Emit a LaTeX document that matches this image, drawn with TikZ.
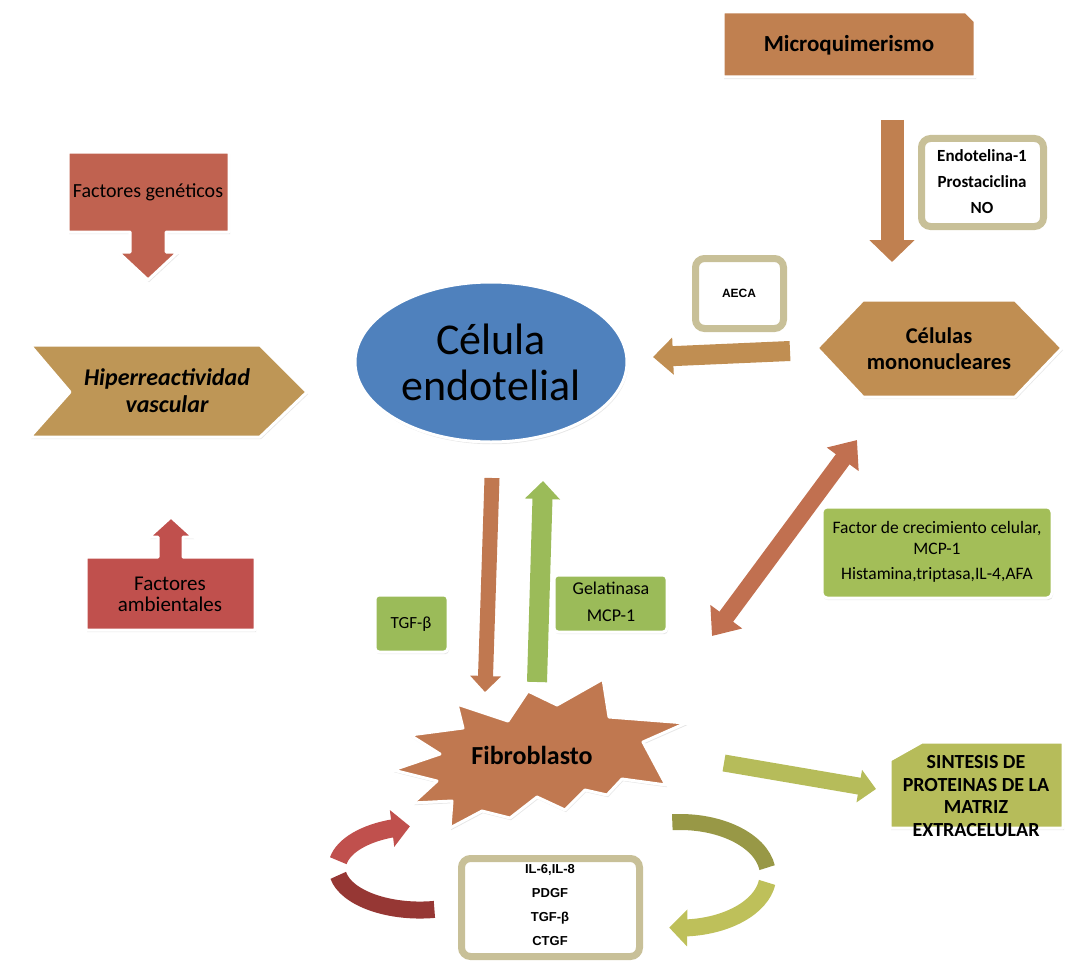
\documentclass[tikz,border=0pt]{standalone}
\usepackage{fontspec}
\setmainfont{Carlito}
\newfontfamily\arialf{Liberation Sans}
\usetikzlibrary{arrows.meta,shapes.geometric,shadows,bending}

\definecolor{brownA}{RGB}{192,128,80}
\definecolor{goldA}{RGB}{192,142,82}
\definecolor{tanA}{RGB}{190,150,86}
\definecolor{redG}{RGB}{192,98,80}
\definecolor{redA}{RGB}{192,80,77}
\definecolor{redD}{RGB}{150,55,52}
\definecolor{salmon}{RGB}{193,112,80}
\definecolor{fibro}{RGB}{192,120,80}
\definecolor{greenA}{RGB}{155,187,89}
\definecolor{greenB}{RGB}{163,190,88}
\definecolor{oliveL}{RGB}{182,188,90}
\definecolor{oliveD}{RGB}{152,152,70}
\definecolor{oliveM}{RGB}{190,192,90}
\definecolor{frameC}{RGB}{200,192,152}
\definecolor{blueA}{RGB}{79,129,189}

\begin{document}
\begin{tikzpicture}[x=1pt,y=-1pt,
  sh/.style={drop shadow={shadow xshift=1pt,shadow yshift=-2.2pt,opacity=0.2,fill=black!50}},
  halo/.style={draw=white,line width=3pt,line join=round},
  shapebox/.style={sh,halo,fill=#1},
  framebox/.style={draw=frameC,line width=7pt,rounded corners=9pt,fill=white,sh},
  lbl/.style={align=center,text=black,inner sep=0pt},
]
\path[use as bounding box] (0,0) rectangle (1065,963);

% ---------- shapes ----------
% Microquimerismo
\path[shapebox=brownA] (723,12) -- (966,12) -- (975,21) -- (975,77) -- (723,77) -- cycle;
\node[lbl,font=\fontsize{23}{26}\selectfont\bfseries] (mq) at (849,45) {Microquimerismo};

% Endotelina box
\draw[framebox] (921.5,138.5) rectangle (1043.5,226.5);
\node[lbl,font=\fontsize{17}{26}\selectfont\bfseries] (endo) at (982,182) {Endotelina-1\\Prostaciclina\\NO};

% Celulas mononucleares
\path[shapebox=goldA] (817,348) -- (863,300) -- (1015,300) -- (1062,348) -- (1015,397) -- (863,397) -- cycle;
\node[lbl,font=\fontsize{22.5}{26}\selectfont\bfseries] (mono) at (939,349) {Células\\mononucleares};

% AECA
\draw[framebox] (695.5,258.5) rectangle (783.5,328.5);
\node[lbl,font=\arialf\bfseries\fontsize{12}{14}\selectfont] (aeca) at (739,293) {AECA};

% Celula endotelial
\node[ellipse,minimum width=272pt,minimum height=160pt,fill=blueA,halo,sh,inner sep=0pt,
      align=center,font=\fontsize{44}{46}\selectfont] (cel) at (491,362) {Célula\\endotelial};

% Factor box
\path[shapebox=greenB,rounded corners=5pt] (822,507) rectangle (1052,598);
\node[lbl,font=\fontsize{17.5}{20.5}\selectfont] (fac) at (937,552) {Factor de crecimiento celular,\\MCP-1\\[5pt]Histamina,triptasa,IL-4,AFA};

% Factores geneticos
\path[shapebox=redG] (68,152) -- (229,152) -- (229,232) -- (166,232) -- (166,252) -- (178,252) -- (148,280) -- (118,252) -- (130,252) -- (130,232) -- (68,232) -- cycle;
\node[lbl,font=\fontsize{20}{22}\selectfont] (fg) at (148,192) {Factores genéticos};

% Hiperreactividad vascular
\path[shapebox=tanA] (30,345) -- (260,345) -- (307,392) -- (260,437) -- (30,437) -- (70,392) -- cycle;
\node[lbl,font=\fontsize{24}{27}\selectfont\bfseries\itshape] (hv) at (167,391) {Hiperreactividad\\vascular};

% Factores ambientales
\path[shapebox=redA] (86,630) -- (255,630) -- (255,557) -- (183,557) -- (183,537) -- (193,537) -- (171,517) -- (149,537) -- (158,537) -- (158,557) -- (86,557) -- cycle;
\node[lbl,font=\fontsize{21}{21}\selectfont] (fa) at (170,594) {Factores\\ambientales};

% TGF box
\path[shapebox=greenA,rounded corners=4pt] (375,595) rectangle (448,652);
\node[lbl,font=\fontsize{17}{20}\selectfont] (tgf) at (411,624) {TGF-β};

% Gelatinasa box
\path[shapebox=greenA,rounded corners=4pt] (554,575) rectangle (667,632);
\node[lbl,font=\fontsize{18}{27}\selectfont] (gel) at (611,602) {Gelatinasa\\MCP-1};

% Fibroblasto
\path[shapebox=fibro] (457,704) -- (508,721) -- (528,691) -- (557,705) -- (603,679) -- (609,717)
  -- (686,723) -- (643,742) -- (666,785) -- (622,779) -- (607,795) -- (585,790) -- (565,810)
  -- (537,797) -- (510,818) -- (482,811) -- (450,828) -- (452,801) -- (413,803) -- (437,781)
  -- (393,770) -- (440,754) -- (410,735) -- (463,728) -- cycle;
\node[lbl,font=\fontsize{26}{28}\selectfont\bfseries] (fib) at (532,755) {Fibroblasto};

% IL box
\draw[framebox] (461.5,858.5) rectangle (639.5,956.5);
\node[lbl,font=\arialf\bfseries\fontsize{13}{24}\selectfont] (il) at (550,905) {IL-6,IL-8\\PDGF\\TGF-β\\CTGF};

% SINTESIS
\path[shapebox=oliveL] (890,760) -- (922,742) -- (1063,742) -- (1063,828) -- (890,828) -- cycle;
\node[lbl,font=\fontsize{20}{22.5}\selectfont\bfseries] (sint) at (976,796) {SINTESIS DE\\PROTEINAS DE LA\\MATRIZ\\EXTRACELULAR};

% ---------- connectors ----------
\coordinate (a1s) at (892,120); \coordinate (a1e) at (892,262);
\draw[line width=23pt,brownA,-{Triangle[width=44pt,length=22pt]}] (a1s) -- (a1e);

\coordinate (a2s) at (790,351); \coordinate (a2e) at (653,357);
\draw[line width=20pt,goldA,-{Triangle[width=36pt,length=20pt]}] (a2s) -- (a2e);

\coordinate (a3s) at (857,440); \coordinate (a3e) at (712,636);
\draw[line width=17pt,salmon,{Triangle[width=38pt,length=24pt]}-{Triangle[width=38pt,length=24pt]}] (a3s) -- (a3e);

\coordinate (a4s) at (492,478); \coordinate (a4e) at (485,692);
\draw[line width=15pt,fibro,-{Triangle[width=30pt,length=16pt]}] (a4s) -- (a4e);

\coordinate (a5s) at (537,682); \coordinate (a5e) at (543,481);
\draw[line width=20pt,greenA,-{Triangle[width=34pt,length=18pt]}] (a5s) -- (a5e);

\coordinate (a6s) at (724,763); \coordinate (a6e) at (876,789);
\draw[line width=17pt,oliveL,-{Triangle[width=32pt,length=17pt]}] (a6s) -- (a6e);

% red circular arrow
\coordinate (r1) at (434.4,909.4);
\coordinate (r2) at (338.3,860.7);
\draw[line width=17pt,redD] (r1) arc[start angle=80,end angle=170,x radius=83,y radius=42];
\draw[line width=18pt,redA,-{Triangle[width=36pt,length=18pt]}] (r2) arc[start angle=190,end angle=263,x radius=83,y radius=42];

% olive circular arrow
\coordinate (o1) at (672.3,822.2);
\coordinate (o2) at (767.1,882.4);
\draw[line width=16pt,oliveD] (o1) arc[start angle=-95,end angle=-8,x radius=88,y radius=53];
\draw[line width=17pt,oliveM,-{Triangle[width=36pt,length=18pt]}] (o2) arc[start angle=8,end angle=97,x radius=88,y radius=53];
\end{tikzpicture}
\end{document}
